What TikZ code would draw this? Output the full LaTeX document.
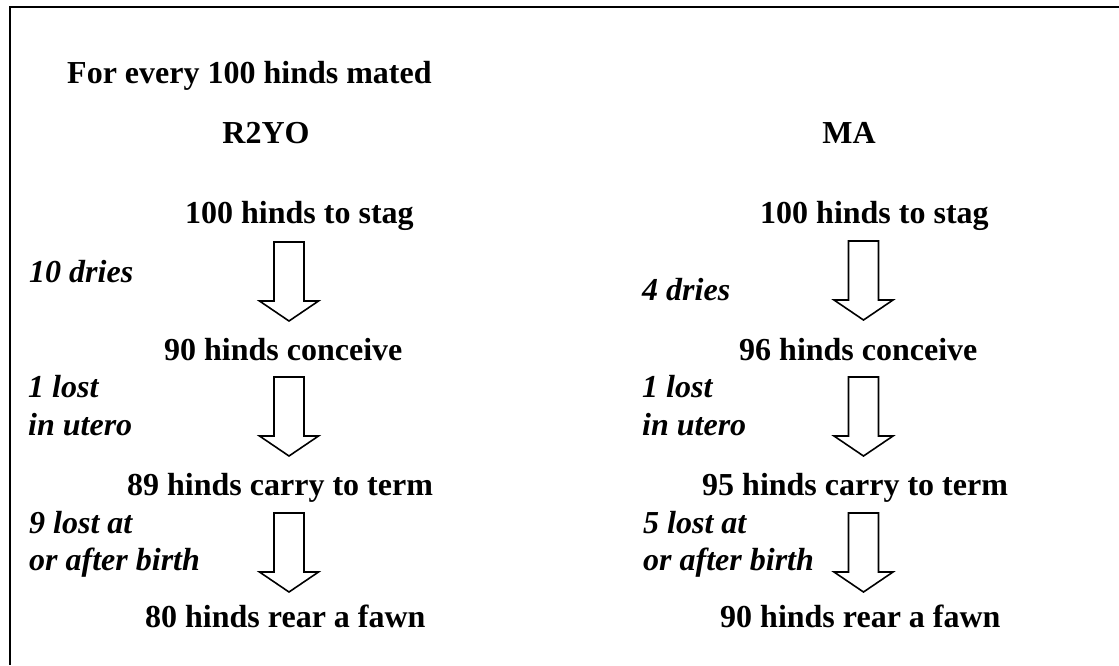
\documentclass[tikz,border=0pt]{standalone}
\usepackage{fontspec}
\setmainfont{Liberation Serif}
\usetikzlibrary{positioning}

\tikzset{
	txt/.style={anchor=base west,inner sep=0pt,font=\fontsize{32}{38}\selectfont\bfseries},
	lbl/.style={txt,font=\fontsize{32}{38}\selectfont\bfseries\itshape},
	pics/downarrow/.style={code={
		\draw[line width=1.6pt,line join=miter] (-15,0) -- (15,0) -- (15,59) -- (29.5,59) -- (0,79) -- (-29.5,59) -- (-15,59) -- cycle;
	}}
}

\begin{document}
\begin{tikzpicture}[x=1pt,y=-1pt]
				\useasboundingbox (0,0) rectangle (1119,665);
				\draw [line width=2.8pt] (1119,7) -- (10,7) -- (10,665);
				% headings
				\node [txt] (head) at (67,83) {For every 100 hinds mated};
				\node [txt,anchor=base] (rtwo) at (266,143) {R2YO};
				\node [txt,anchor=base] (ma) at (849,143) {MA};
				% left column
				\node [txt] (stagL) at (185,223) {100 hinds to stag};
				\node [txt] (concL) at (164,360) {90 hinds conceive};
				\node [txt] (termL) at (127,495) {89 hinds carry to term};
				\node [txt] (fawnL) at (145,627) {80 hinds rear a fawn};
				\node [lbl] (driesL) at (29,282) {10 dries};
				\node [lbl] (lostL) at (28,397) {1 lost};
				\node [lbl] (uteroL) at (28,435) {in utero};
				\node [lbl] (lostatL) at (29,533) {9 lost at};
				\node [lbl] (birthL) at (29,570) {or after birth};
				% right column
				\node [txt] (stagR) at (760,223) {100 hinds to stag};
				\node [txt] (concR) at (739,360) {96 hinds conceive};
				\node [txt] (termR) at (702,495) {95 hinds carry to term};
				\node [txt] (fawnR) at (720,627) {90 hinds rear a fawn};
				\node [lbl] (driesR) at (642,300) {4 dries};
				\node [lbl] (lostR) at (642,397) {1 lost};
				\node [lbl] (uteroR) at (642,435) {in utero};
				\node [lbl] (lostatR) at (643,533) {5 lost at};
				\node [lbl] (birthR) at (643,570) {or after birth};
				% block arrows
				\coordinate (aL1) at (289,242);
				\coordinate (aL2) at (289,377);
				\coordinate (aL3) at (289,513);
				\coordinate (aR1) at (863.5,241);
				\coordinate (aR2) at (863.5,377);
				\coordinate (aR3) at (863.5,513);
				\foreach \a in {aL1,aL2,aL3,aR1,aR2,aR3}
					\pic at (\a) {downarrow};
			\end{tikzpicture}
\end{document}
